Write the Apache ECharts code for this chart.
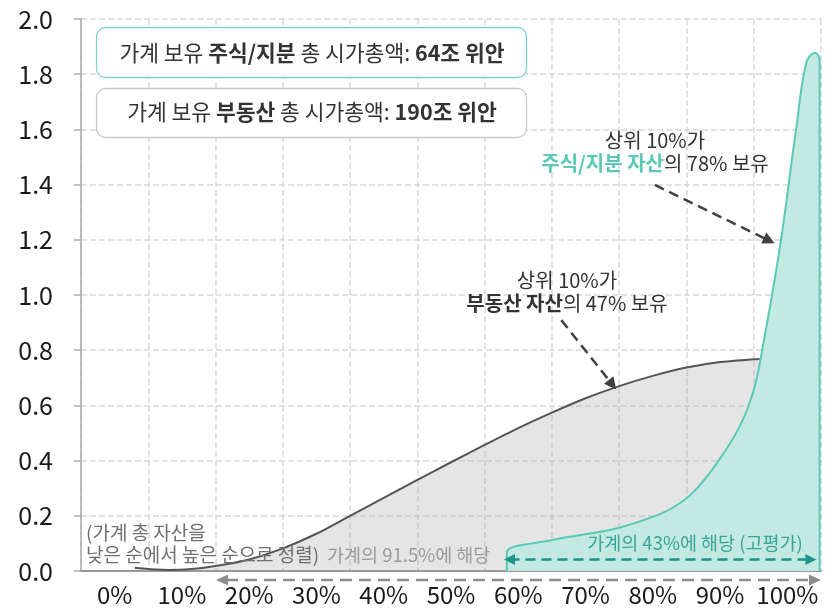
<!DOCTYPE html>
<html>
<head>
<meta charset="utf-8">
<script src="https://cdn.jsdelivr.net/npm/echarts@6/dist/echarts.min.js"></script>
<style>
html,body{margin:0;padding:0;background:#fff}
#main{width:835px;height:611px}
</style>
</head>
<body>
<div id="main"></div>
<script>
// 가로축 눈금 (가계 자산 순위 백분위)
var xLabels = ['0%','10%','20%','30%','40%','50%','60%','70%','80%','90%','100%'];

// 부동산 분포 곡선
var estateX = [3, 8, 11, 15, 20, 25, 30, 35, 40, 45, 50, 55, 60, 65, 70, 75, 80, 85, 90, 95, 95.9];
var estateY = [0.012, 0.004, 0.006, 0.018, 0.042, 0.082, 0.135, 0.2, 0.265, 0.33, 0.394, 0.457, 0.518, 0.574, 0.626, 0.67, 0.707, 0.737, 0.757, 0.767, 0.768];

// 주식/지분 분포 곡선
var stockX = [58.3, 58.3, 65, 70, 75, 80, 83, 86, 89.5, 92.9, 95, 96.4, 98.9, 101.3, 102.8, 104.1, 104.8, 104.8];
var stockY = [0, 0.066, 0.112, 0.133, 0.157, 0.196, 0.23, 0.285, 0.39, 0.523, 0.656, 0.82, 1.175, 1.6, 1.84, 1.878, 1.85, 0];

function zip(xs, ys) {
	return xs.map(function (x, i) { return [x, ys[i]]; });
}

var FONT = "'Noto Sans CJK KR', 'Noto Sans', sans-serif";
var TEAL = '#5cc8b6';
var TEAL_DARK = '#1f9488';

var myChart = echarts.init(document.getElementById('main'));

var option = {
	animation: false,
	textStyle: { fontFamily: FONT },
	grid: { left: 81, right: 14, top: 19, bottom: 40 },
	xAxis: [
		{
			type: 'category',
			data: xLabels,
			boundaryGap: true,
			axisLine: { lineStyle: { color: '#999', width: 2 } },
			axisTick: { interval: 0, length: 8, lineStyle: { color: '#999', width: 1.5 } },
			axisLabel: { interval: 0, color: '#1a1a1a', fontSize: 24, margin: 12, fontFamily: FONT },
			splitLine: { show: true, interval: 0, lineStyle: { color: '#d9d9d9', width: 1.5, type: [6, 3] } }
		},
		{
			type: 'value',
			min: -5,
			max: 105,
			show: false
		}
	],
	yAxis: {
		type: 'value',
		min: 0,
		max: 2,
		interval: 0.2,
		axisLine: { show: true, onZero: false, lineStyle: { color: '#aaa', width: 1.5 } },
		axisTick: { show: true, length: 7, lineStyle: { color: '#aaa', width: 1.5 } },
		axisLabel: {
			color: '#1a1a1a', fontSize: 25, margin: 28, fontFamily: FONT,
			formatter: function (v) { return v.toFixed(1); }
		},
		splitLine: { show: true, lineStyle: { color: '#d9d9d9', width: 1.5, type: [6, 3] } }
	},
	series: [
		{
			name: '부동산',
			type: 'line',
			xAxisIndex: 1,
			data: zip(estateX, estateY),
			smooth: 0.3,
			showSymbol: false,
			lineStyle: { color: '#555', width: 2 },
			areaStyle: { color: 'rgba(165,165,165,0.42)' },
			markLine: {
				silent: true,
				symbol: ['none', 'triangle'],
				symbolSize: 12,
				label: { show: false },
				lineStyle: { color: '#404040', width: 2.5, type: [10, 6] },
				data: [
					[{ coord: [66.4, 0.909] }, { coord: [74.0, 0.675] }],
					[{ coord: [80.3, 1.399] }, { coord: [97.3, 1.197] }]
				]
			}
		},
		{
			name: '주식/지분',
			type: 'line',
			xAxisIndex: 1,
			data: zip(stockX, stockY),
			smooth: 0.4,
			showSymbol: false,
			lineStyle: { color: TEAL, width: 2 },
			areaStyle: { color: '#c3e9e3', opacity: 1 },
			markLine: {
				silent: true,
				symbol: ['triangle', 'triangle'],
				symbolSize: 11,
				label: { show: false },
				lineStyle: { color: TEAL_DARK, width: 2.5, type: [10, 6] },
				data: [
					[{ coord: [58.7, 0.042] }, { coord: [103.5, 0.042] }]
				]
			}
		}
	],
	graphic: [
		// 상단 안내 상자
		{
			type: 'rect', z: 100,
			shape: { x: 96.5, y: 27.5, width: 430, height: 50, r: 9 },
			style: { fill: '#fff', stroke: '#7fd3c5', lineWidth: 1.3 }
		},
		{
			type: 'text', z: 101,
			style: {
				x: 312, y: 53, align: 'center', verticalAlign: 'middle',
				text: '{n|가계 보유 }{b|주식/지분}{n| 총 시가총액: }{b|64조 위안}',
				rich: {
					n: { fontSize: 21.5, fontFamily: FONT, fill: '#333' },
					b: { fontSize: 21.5, fontFamily: FONT, fontWeight: 'bold', fill: '#333' }
				}
			}
		},
		{
			type: 'rect', z: 100,
			shape: { x: 96.5, y: 88.5, width: 430, height: 49, r: 9 },
			style: { fill: '#fff', stroke: '#c8c8c8', lineWidth: 1.3 }
		},
		{
			type: 'text', z: 101,
			style: {
				x: 312, y: 112, align: 'center', verticalAlign: 'middle',
				text: '{n|가계 보유 }{b|부동산}{n| 총 시가총액: }{b|190조 위안}',
				rich: {
					n: { fontSize: 21.5, fontFamily: FONT, fill: '#333' },
					b: { fontSize: 21.5, fontFamily: FONT, fontWeight: 'bold', fill: '#333' }
				}
			}
		},
		// 주석
		{
			type: 'text', z: 101,
			style: {
				x: 655, y: 151.5, align: 'center', verticalAlign: 'middle',
				text: '{n|상위 10%가}\n{t|주식/지분 자산}{n|의 78% 보유}',
				rich: {
					n: { fontSize: 20, lineHeight: 23, fontFamily: FONT, fill: '#333' },
					t: { fontSize: 20, lineHeight: 23, fontFamily: FONT, fontWeight: 'bold', fill: TEAL }
				}
			}
		},
		{
			type: 'text', z: 101,
			style: {
				x: 567, y: 291.5, align: 'center', verticalAlign: 'middle',
				text: '{n|상위 10%가}\n{b|부동산 자산}{n|의 47% 보유}',
				rich: {
					n: { fontSize: 20, lineHeight: 23, fontFamily: FONT, fill: '#333' },
					b: { fontSize: 20, lineHeight: 23, fontFamily: FONT, fontWeight: 'bold', fill: '#333' }
				}
			}
		},
		{
			type: 'text', z: 101,
			style: {
				x: 86, y: 544, align: 'left', verticalAlign: 'middle',
				text: '(가계 총 자산을\n낮은 순에서 높은 순으로 정렬)',
				fontSize: 19, lineHeight: 22, fontFamily: FONT, fill: '#707070'
			}
		},
		{
			type: 'text', z: 101,
			style: {
				x: 327, y: 555, align: 'left', verticalAlign: 'middle',
				text: '가계의 91.5%에 해당',
				fontSize: 18.5, fontFamily: FONT, fill: '#9a9a9a'
			}
		},
		{
			type: 'text', z: 101,
			style: {
				x: 695, y: 543, align: 'center', verticalAlign: 'middle',
				text: '가계의 43%에 해당 (고평가)',
				fontSize: 18.5, fontFamily: FONT, fill: '#3aa596'
			}
		},
		// 하단 회색 화살표
		{
			type: 'line', z: 101,
			shape: { x1: 226, y1: 580, x2: 811, y2: 580 },
			style: { stroke: '#8c8c8c', lineWidth: 2.5, lineDash: [12, 7] }
		},
		{
			type: 'polygon', z: 101,
			shape: { points: [[216, 580], [228, 574.5], [228, 585.5]] },
			style: { fill: '#8c8c8c' }
		},
		{
			type: 'polygon', z: 101,
			shape: { points: [[821, 580], [809, 574.5], [809, 585.5]] },
			style: { fill: '#8c8c8c' }
		}
	]
};

myChart.setOption(option);
</script>
</body>
</html>
